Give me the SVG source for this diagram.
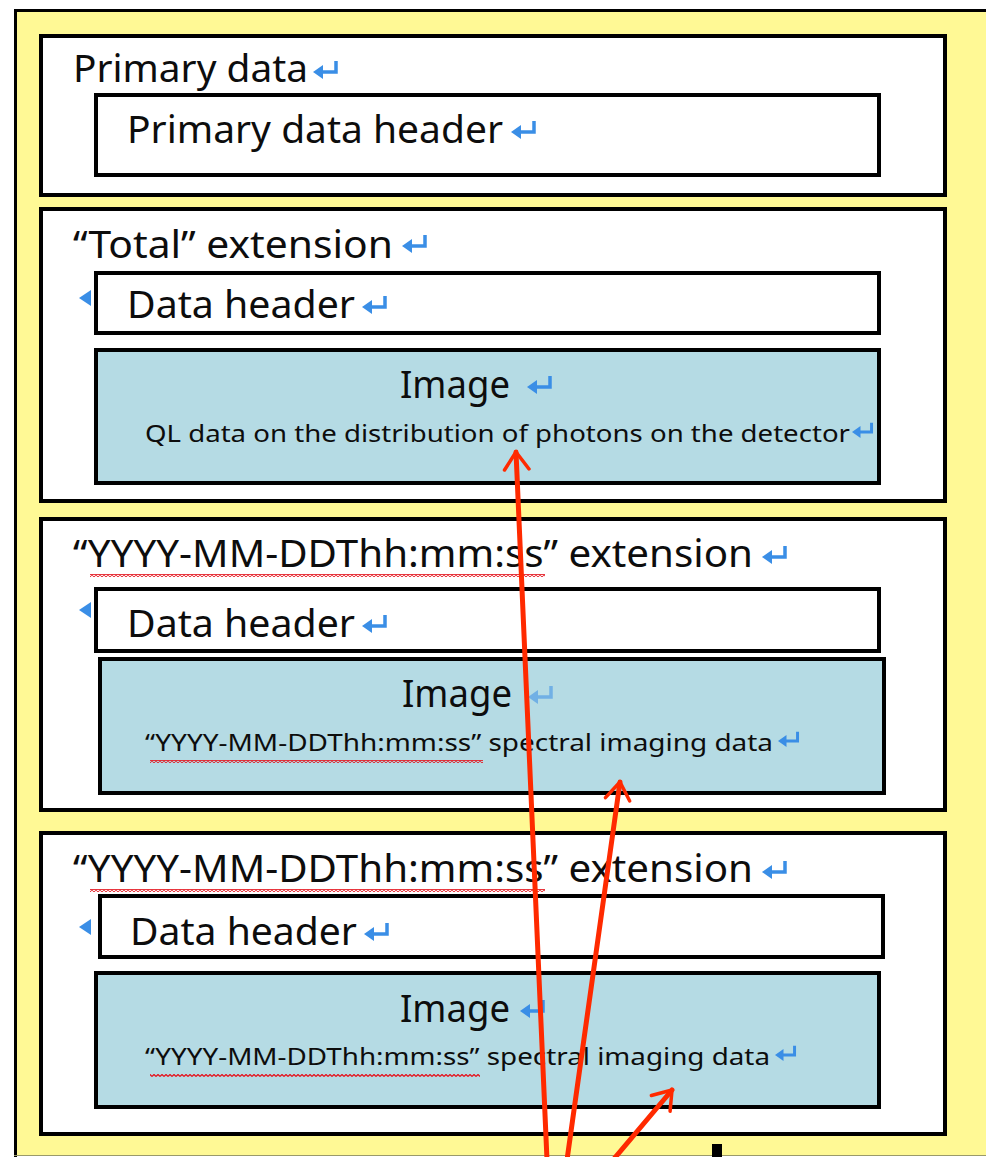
<svg xmlns="http://www.w3.org/2000/svg" width="986" height="1157" viewBox="0 0 986 1157">
<style>
.box{fill:#ffffff;stroke:#000;stroke-width:4}
.img{fill:#b5dbe4;stroke:#000;stroke-width:4}
.big{font-family:"Noto Sans","Open Sans",sans-serif;font-size:38px;fill:#0d0d0d}
.sm{font-family:"Noto Sans","Open Sans",sans-serif;font-size:24px;fill:#0d0d0d}
.arr{stroke:#ff2a00;stroke-width:5;fill:none;stroke-linecap:round;marker-end:url(#head)}
.sq{fill:url(#squig)}
</style>
<defs>
<marker id="head" viewBox="-12 -10 14 20" refX="0" refY="0" markerWidth="5" markerHeight="7" markerUnits="strokeWidth" orient="auto" overflow="visible">
<path d="M-10,-7 L0,0 L-10,7" fill="none" stroke="#ff2a00" stroke-width="2" stroke-linecap="round" stroke-linejoin="round"/>
</marker>
<pattern id="squig" width="4" height="3" patternUnits="userSpaceOnUse">
<path d="M0,2.5 L2,0.5 L4,2.5" fill="none" stroke="#e4161f" stroke-width="1.3"/>
</pattern>
<g id="ret">
<path d="M0,0 L10,-7 L10,7 Z" fill="#3a8ee6"/>
<path d="M8,0 L23,0 L23,-11" fill="none" stroke="#3a8ee6" stroke-width="3.5"/>
</g>
<path id="lt" d="M0,0 L12,-8 L12,8 Z" fill="#3a8ee6"/>
</defs>

<g id="background">
<rect x="14" y="9" width="990" height="1146" fill="#fff995"/>
<path d="M15.5,1157 L15.5,10.5 L986,10.5" fill="none" stroke="#000" stroke-width="3"/>
<line x1="14" y1="1155.5" x2="986" y2="1155.5" stroke="#9a9a6a" stroke-width="1"/>
</g>

<g id="primary">
<rect class="box" x="41" y="36" width="904" height="159"/>
<text class="big" x="73" y="82" textLength="235" lengthAdjust="spacingAndGlyphs">Primary data</text>
<use href="#ret" x="313" y="72"/>
<g id="primary-header">
<rect class="box" x="96" y="95" width="783" height="80"/>
<text class="big" x="127" y="143" textLength="376" lengthAdjust="spacingAndGlyphs">Primary data header</text>
<use href="#ret" x="511" y="132"/>
</g>
</g>

<g id="total">
<rect class="box" x="41" y="209" width="904" height="292"/>
<text class="big" x="73" y="258" textLength="320" lengthAdjust="spacingAndGlyphs">“Total” extension</text>
<use href="#ret" x="402" y="246"/>
<use href="#lt" x="79" y="298"/>
<g id="total-header">
<rect class="box" x="96" y="273" width="783" height="60"/>
<text class="big" x="127" y="318" textLength="228" lengthAdjust="spacingAndGlyphs">Data header</text>
<use href="#ret" x="362" y="307"/>
</g>
<g id="total-image">
<rect class="img" x="96" y="350" width="783" height="133"/>
<text class="big" x="400" y="398" textLength="110" lengthAdjust="spacingAndGlyphs">Image</text>
<use href="#ret" x="527" y="387"/>
<text class="sm" x="145" y="442" textLength="705" lengthAdjust="spacingAndGlyphs">QL data on the distribution of photons on the detector</text>
<use href="#ret" transform="translate(852,432) scale(0.85)"/>
</g>
</g>

<g id="ext1">
<rect class="box" x="41" y="519" width="904" height="291"/>
<text class="big" x="73" y="567" textLength="680" lengthAdjust="spacingAndGlyphs">“YYYY-MM-DDThh:mm:ss” extension</text>
<rect class="sq" x="90" y="574" width="455" height="3"/>
<use href="#ret" x="762" y="557"/>
<use href="#lt" x="79" y="610"/>
<g id="ext1-header">
<rect class="box" x="96" y="589" width="783" height="62"/>
<text class="big" x="127" y="637" textLength="228" lengthAdjust="spacingAndGlyphs">Data header</text>
<use href="#ret" x="362" y="626"/>
</g>
<g id="ext1-image">
<rect class="img" x="100" y="659" width="784" height="134"/>
<text class="big" x="402" y="707" textLength="110" lengthAdjust="spacingAndGlyphs">Image</text>
<use href="#ret" x="528" y="697" opacity="0.55"/>
<text class="sm" x="145" y="751" textLength="628" lengthAdjust="spacingAndGlyphs">“YYYY-MM-DDThh:mm:ss” spectral imaging data</text>
<rect class="sq" x="150" y="760" width="333" height="3"/>
<use href="#ret" transform="translate(778,741) scale(0.85)"/>
</g>
</g>

<g id="ext2">
<rect class="box" x="41" y="833" width="904" height="301"/>
<text class="big" x="73" y="882" textLength="680" lengthAdjust="spacingAndGlyphs">“YYYY-MM-DDThh:mm:ss” extension</text>
<rect class="sq" x="90" y="889" width="455" height="3"/>
<use href="#ret" x="762" y="872"/>
<use href="#lt" x="79" y="927"/>
<g id="ext2-header">
<rect class="box" x="100" y="896" width="783" height="61"/>
<text class="big" x="130" y="945" textLength="227" lengthAdjust="spacingAndGlyphs">Data header</text>
<use href="#ret" x="364" y="934"/>
</g>
<g id="ext2-image">
<rect class="img" x="96" y="973" width="783" height="134"/>
<text class="big" x="400" y="1022" textLength="110" lengthAdjust="spacingAndGlyphs">Image</text>
<use href="#ret" x="520" y="1011"/>
<text class="sm" x="145" y="1065" textLength="625" lengthAdjust="spacingAndGlyphs">“YYYY-MM-DDThh:mm:ss” spectral imaging data</text>
<rect class="sq" x="150" y="1074" width="330" height="3"/>
<use href="#ret" transform="translate(775,1055) scale(0.85)"/>
</g>
</g>

<g id="connectors">
<line class="arr" x1="547" y1="1160" x2="516" y2="452"/>
<line class="arr" x1="567" y1="1160" x2="620" y2="782"/>
<line class="arr" x1="613" y1="1160" x2="672" y2="1090"/>
</g>
<rect x="712" y="1144" width="10" height="13" fill="#000"/>
</svg>
